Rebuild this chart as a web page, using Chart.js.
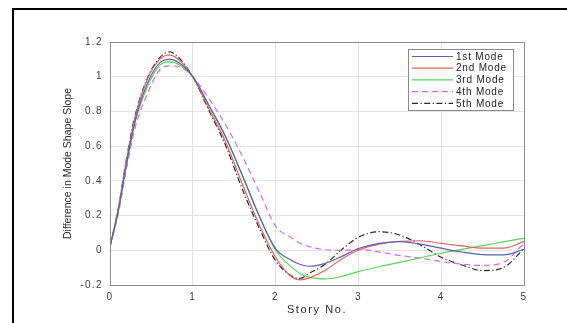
<!DOCTYPE html>
<html><head><meta charset="utf-8">
<script src="https://cdn.jsdelivr.net/npm/chart.js@4/dist/chart.umd.min.js"></script>
<style>
html,body{margin:0;padding:0;background:#fff;}
#wrap{position:relative;width:567px;height:323px;overflow:hidden;background:#fff;}
#frameL{position:absolute;left:12px;top:8px;width:2px;height:315px;background:#000;}
#frameT{position:absolute;left:12px;top:8px;width:555px;height:2px;background:#000;}
canvas{position:absolute;left:0;top:0;}
</style></head><body>
<div id="wrap"><canvas id="c" width="567" height="323"></canvas><div id="frameL"></div><div id="frameT"></div></div>
<script>
// Story positions (x) shared by all series
const storyNo = [0,0.1,0.2,0.3,0.45,0.6,0.72,0.85,1.0,1.2,1.4,1.6,1.8,2.0,2.2,2.3,2.4,2.6,2.8,3.0,3.25,3.5,3.75,4.0,4.25,4.5,4.75,5.0];
const seriesNames = ["1st Mode","2nd Mode","3rd Mode","4th Mode","5th Mode"];
const mode1 = [0.02,0.23,0.50,0.74,0.96,1.08,1.10,1.075,1.0,0.83,0.65,0.43,0.20,0.01,-0.06,-0.082,-0.092,-0.075,-0.035,0.01,0.04,0.05,0.035,0.012,-0.01,-0.025,-0.027,0.005];
const mode2 = [0.02,0.24,0.52,0.76,0.985,1.10,1.126,1.09,1.0,0.81,0.62,0.38,0.15,-0.04,-0.155,-0.17,-0.16,-0.115,-0.05,0.0,0.035,0.052,0.055,0.04,0.025,0.012,0.012,0.05];
const mode3 = [0.02,0.22,0.49,0.73,0.94,1.065,1.085,1.065,1.0,0.83,0.65,0.43,0.20,0.0,-0.10,-0.135,-0.155,-0.165,-0.15,-0.123,-0.095,-0.07,-0.043,-0.017,0.005,0.027,0.048,0.07];
const mode4 = [0.02,0.21,0.47,0.70,0.90,1.04,1.062,1.055,1.0,0.87,0.72,0.54,0.34,0.14,0.07,0.04,0.022,0.003,0.0,0.005,-0.01,-0.03,-0.045,-0.065,-0.08,-0.087,-0.07,0.04];
const mode5 = [0.02,0.24,0.53,0.77,0.99,1.11,1.143,1.10,1.0,0.80,0.60,0.35,0.13,-0.06,-0.15,-0.162,-0.135,-0.08,0.005,0.075,0.107,0.088,0.03,-0.04,-0.085,-0.117,-0.10,0.01];
const xTicks = [0,1,2,3,4,5];
const yTicks = [-0.2,0,0.2,0.4,0.6,0.8,1,1.2];

const allModes = [mode1,mode2,mode3,mode4,mode5];
const colors = ["#5a60b4","#e0625f","#58d458","#e064e0","#2a2a2a"];
const dashes = [[],[],[],[6,4],[6,2.5,1.2,2.5]];

const datasets = allModes.map((m,i)=>({
  label: seriesNames[i],
  data: storyNo.map((x,j)=>({x:x,y:m[j]})),
  borderColor: colors[i],
  borderWidth: 1.2,
  borderDash: dashes[i],
  pointRadius: 0,
  fill: false,
  cubicInterpolationMode: 'monotone'
}));

function wrapSpacing(scale, fn, sp){
  const key = '_ws_'+fn;
  if (scale[key]) return;
  const orig = scale[fn];
  scale[fn] = function(){
    const ctx = this.ctx;
    const prev = ctx.letterSpacing;
    ctx.letterSpacing = sp;
    orig.apply(this, arguments);
    ctx.letterSpacing = prev || '0px';
  };
  scale[key] = true;
}

const spacingPlugin = {
  id: 'spacing',
  afterLayout(chart){
    wrapSpacing(chart.scales.x,'drawLabels','1.4px');
    wrapSpacing(chart.scales.x,'drawTitle','1.6px');
    wrapSpacing(chart.scales.y,'drawLabels','1.4px');
  }
};

const boxPlugin = {
  id: 'box',
  afterDatasetsDraw(chart){
    const {ctx, chartArea:a} = chart;
    ctx.save();
    ctx.strokeStyle = '#8c8c8c';
    ctx.lineWidth = 1;
    ctx.strokeRect(Math.round(a.left)+0.5, Math.round(a.top)+0.5, Math.round(a.right-a.left), Math.round(a.bottom-a.top));
    ctx.restore();
  }
};

const legendPlugin = {
  id: 'boxLegend',
  afterDraw(chart){
    const ctx = chart.ctx;
    ctx.save();
    const bx=408.5, by=49.5, bw=105, bh=61;
    ctx.fillStyle='#fff'; ctx.fillRect(bx,by,bw,bh);
    ctx.strokeStyle='#8a8a8a'; ctx.lineWidth=1; ctx.strokeRect(bx,by,bw,bh);
    ctx.font = '10px "Liberation Sans", Arial, sans-serif';
    ctx.letterSpacing = '0.8px';
    ctx.textBaseline = 'middle';
    chart.data.datasets.forEach((ds,i)=>{
      const yy = 56.5 + i*11.7;
      ctx.beginPath();
      ctx.setLineDash(ds.borderDash||[]);
      ctx.strokeStyle = ds.borderColor;
      ctx.lineWidth = ds.borderWidth;
      ctx.moveTo(412,yy); ctx.lineTo(453,yy); ctx.stroke();
      ctx.setLineDash([]);
      ctx.fillStyle = '#222';
      ctx.fillText(ds.label,456,yy+0.5);
    });
    ctx.restore();
  }
};

new Chart(document.getElementById('c'), {
  type: 'line',
  data: { datasets },
  options: {
    responsive: false,
    animation: false,
    events: [],
    layout: { padding: { left: 55, top: 42, right: 43, bottom: 0 } },
    plugins: { legend: { display: false }, tooltip: { enabled: false } },
    scales: {
      x: {
        type: 'linear', min: 0, max: 5,
        afterFit: s => { s.height = 38; },
        afterBuildTicks: s => { s.ticks = xTicks.map(v=>({value:v})); },
        grid: { color: '#e4e4e4', drawTicks: false, lineWidth: 1 },
        border: { display: false },
        ticks: { padding: 6, color: '#3a3a3a', font: { family: '"Liberation Sans", Arial, sans-serif', size: 10 }, callback: v => String(v) },
        title: { display: true, text: 'Story No.', color: '#2a2a2a', padding: { top: 0, bottom: 6 }, font: { family: '"Liberation Sans", Arial, sans-serif', size: 11 } }
      },
      y: {
        type: 'linear', min: -0.2, max: 1.2,
        afterFit: s => { s.width = 55; },
        afterBuildTicks: s => { s.ticks = yTicks.map(v=>({value:v})); },
        grid: { color: '#e4e4e4', drawTicks: false, lineWidth: 1 },
        border: { display: false },
        ticks: { padding: 7, color: '#3a3a3a', font: { family: '"Liberation Sans", Arial, sans-serif', size: 10 }, callback: v => String(parseFloat(Number(v).toFixed(1))) },
        title: { display: true, text: 'Difference in Mode Shape Slope', color: '#2a2a2a', padding: { top: 7, bottom: 0 }, font: { family: '"Liberation Sans", Arial, sans-serif', size: 10.5 } }
      }
    }
  },
  plugins: [spacingPlugin, boxPlugin, legendPlugin]
});
</script>
</body></html>
